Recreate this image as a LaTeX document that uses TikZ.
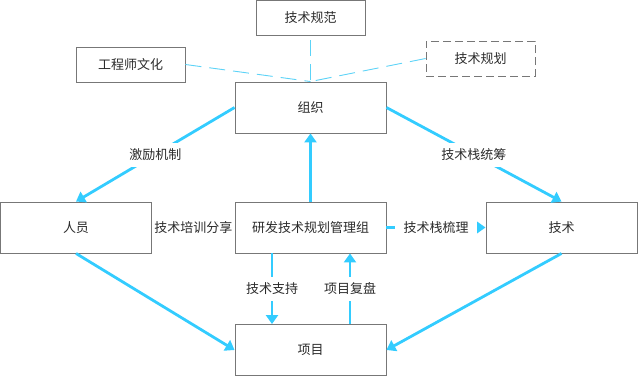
\documentclass[tikz,border=0pt]{standalone}
\usepackage{fontspec}
\setmainfont{Noto Sans CJK SC}
\usepackage{xcolor}
\usepackage{tikz}
\usetikzlibrary{
  arrows.meta,
  positioning,
  calc
}
\definecolor{flowblue}{HTML}{33CCFF}
\definecolor{linkblue}{HTML}{5CD3F7}
\definecolor{boxgray}{HTML}{777777}
\definecolor{txtgray}{HTML}{2B2B2B}
\tikzstyle{topicbox} = [
  rectangle, draw=boxgray, line width=0.9pt,
  minimum width=109pt, minimum height=35pt,
  align=center, font=\fontsize{13pt}{15pt}\selectfont, text=txtgray
]
\tikzstyle{mainbox} = [
  topicbox, minimum width=151pt, minimum height=51pt
]
\tikzstyle{arrowstyle} = [-{Triangle[length=9pt, width=12pt]}, line width=2.8pt, flowblue]
\tikzstyle{linkstyle} = [linkblue, line width=0.9pt, dash pattern=on 16pt off 8pt]
\tikzstyle{arrowlabel} = [fill=white, inner xsep=7pt, inner ysep=6pt, text=txtgray,
  font=\fontsize{13pt}{15pt}\selectfont]

\begin{document}
\begin{tikzpicture}[x=1pt, y=1pt]
\useasboundingbox (0,0) rectangle (638,376);

% --- Top layer ---
\node[topicbox] (guifan) at (310.5,358.5) {技术规范};
\node[topicbox] (wenhua) at (130.5,311.5) {工程师文化};
\node[topicbox, dash pattern=on 8pt off 4pt] (guihua) at (480.5,317.5) {技术规划};
\node[mainbox] (zuzhi) at (310.5,268.5) {组织};

% --- Middle layer ---
\node[mainbox] (guanli) at (310.5,148.5) {研发技术规划管理组};
\node[mainbox] (renyuan) at (76,148.5) {人员};
\node[mainbox] (jishu) at (561.5,148.5) {技术};

% --- Bottom layer ---
\node[mainbox] (xiangmu) at (310.5,26) {项目};

% --- Dashed links ---
\draw[linkstyle] (wenhua.east) -- (zuzhi.north);
\draw[linkstyle] (guihua.west) -- (zuzhi.north);
\draw[linkstyle] ([yshift=-5pt]guifan.south) -- (zuzhi.north);

% --- Arrows ---
\draw[arrowstyle] (zuzhi.west) -- (renyuan.north) node[midway, arrowlabel] {激励机制};
\draw[arrowstyle] (zuzhi.east) -- (jishu.north) node[midway, arrowlabel] {技术栈统筹};
\draw[arrowstyle] (guanli.north) -- (zuzhi.south);
\draw[arrowstyle] (renyuan.south) -- (xiangmu.west);
\draw[arrowstyle] (jishu.south) -- (xiangmu.east);
\draw[arrowstyle] ([xshift=-38.5pt]guanli.south) -- ([xshift=-38.5pt]xiangmu.north)
  node[midway, arrowlabel] {技术支持};
\draw[arrowstyle] ([xshift=39.5pt]xiangmu.north) -- ([xshift=39.5pt]guanli.south)
  node[midway, arrowlabel] {项目复盘};
\draw[arrowstyle] (guanli.east) -- (jishu.west) node[midway, arrowlabel, inner xsep=8.5pt] {技术栈梳理};
\path (renyuan.east) -- (guanli.west) node[midway, arrowlabel, inner xsep=2pt] {技术培训分享};

\end{tikzpicture}
\end{document}
